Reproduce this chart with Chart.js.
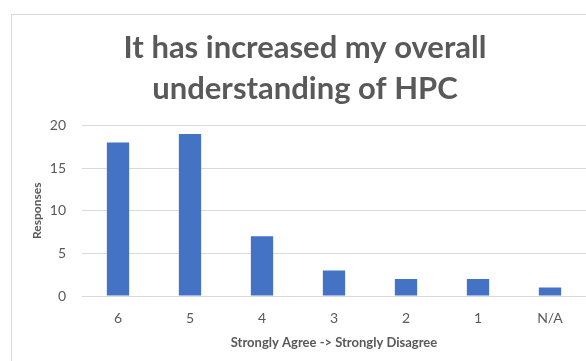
<!DOCTYPE html>
<html>
<head>
<meta charset="utf-8">
<script src="https://cdn.jsdelivr.net/npm/chart.js@4/dist/chart.umd.min.js"></script>
<style>
  html, body { margin: 0; padding: 0; background: #fff; overflow: hidden; }
  #wrap { position: relative; width: 586px; height: 361px; }
  #frame { position: absolute; left: 11px; top: 14px; width: 620px; height: 400px; border: 1px solid #d9d9d9; }
  canvas { position: absolute; left: 0; top: 0; }
</style>
</head>
<body>
<div id="wrap">
  <div id="frame"></div>
  <canvas id="responsesChart" width="586" height="361"></canvas>
</div>
<script>
// Survey answers, strongly agree (6) down to strongly disagree (1)
const categories = ['6', '5', '4', '3', '2', '1', 'N/A'];
const responses = [18, 19, 7, 3, 2, 2, 1];
const yTicks = [0, 5, 10, 15, 20];

const TEXT = '#595959';
const FONT = 'Lato, "Open Sans", sans-serif';

const canvas = document.getElementById('responsesChart');
canvas.setAttribute('role', 'img');
canvas.setAttribute('aria-label', 'Bar chart of responses: It has increased my overall understanding of HPC');

new Chart(canvas.getContext('2d'), {
  type: 'bar',
  data: {
    labels: categories,
    datasets: [{
      label: 'Responses',
      data: responses,
      backgroundColor: '#4472c4',
      borderWidth: 0,
      categoryPercentage: 1,
      barPercentage: 0.31,
    }],
  },
  options: {
    responsive: false,
    animation: false,
    layout: { padding: { left: 24, right: 0, top: 0, bottom: 10 } },
    plugins: {
      legend: { display: false },
      tooltip: { enabled: false },
      title: {
        display: true,
        text: ['It has increased my overall', 'understanding of HPC'],
        color: TEXT,
        font: { family: FONT, size: 31, weight: 'bold', lineHeight: 1.33 },
        padding: { top: 27, bottom: 16 },
      },
    },
    scales: {
      x: {
        afterFit: (scale) => { scale.height = 55; },
        grid: { display: false, drawTicks: false },
        border: { display: false },
        ticks: { color: TEXT, font: { family: FONT, size: 14 }, padding: 14 },
        title: {
          display: true,
          text: 'Strongly Agree -> Strongly Disagree',
          color: TEXT,
          font: { family: FONT, size: 13, weight: 'bold' },
          padding: { top: 8, bottom: 0 },
        },
      },
      y: {
        min: 0,
        max: 20,
        afterBuildTicks: (scale) => { scale.ticks = yTicks.map((v) => ({ value: v })); },
        afterFit: (scale) => { scale.width = 58; },
        grid: { color: '#d9d9d9', drawTicks: false },
        border: { display: false },
        ticks: { color: TEXT, font: { family: FONT, size: 14 }, padding: 16 },
        title: {
          display: true,
          text: 'Responses',
          color: TEXT,
          font: { family: FONT, size: 12, weight: 'bold' },
          padding: { top: 6, bottom: 0 },
        },
      },
    },
  },
});
</script>
</body>
</html>
